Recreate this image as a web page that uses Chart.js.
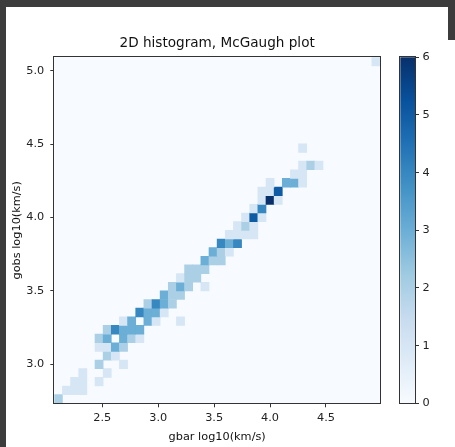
<!DOCTYPE html>
<html>
<head>
<meta charset="utf-8">
<script src="https://cdn.jsdelivr.net/npm/chart.js@4.4.1/dist/chart.umd.min.js"></script>
<style>
  html, body { margin:0; padding:0; width:455px; height:447px; overflow:hidden; background:#3c3c3c; }
  #paper { position:absolute; left:6px; top:7px; width:449px; height:440px; background:#ffffff; }
  #rstrip { position:absolute; left:448px; top:0; width:7px; height:40px; background:#3c3c3c; }
  #main { position:absolute; left:0; top:0; width:455px; height:447px; }
  #cbar { position:absolute; left:390px; top:0; width:65px; height:447px; }
</style>
</head>
<body>
<div id="paper"></div>
<div id="rstrip"></div>
<canvas id="main" width="455" height="447"></canvas>
<canvas id="cbar" width="65" height="447"></canvas>
<script>
// ---------------- data ----------------
const titleText = '2D histogram, McGaugh plot';
const xLabel = 'gbar log10(km/s)';
const yLabel = 'gobs log10(km/s)';

// histogram range (log10 km/s) and number of bins per axis
const gbarRange = [2.0707, 4.983];
const gobsRange = [2.7343, 5.0913];
const nBins = 40;

// non-empty bins: column (gbar bin index), row (gobs bin index), count
const binCol = [0, 1,2,3, 2,3,5, 3,6, 5,8, 6,7, 5,6,7,8, 5,6,8,9,10, 6,7,8,9,10, 8,9,11,12,15,
                10,11,12,13, 11,12,13,14, 13,14,15, 14,15,16,18, 15,16,17, 16,17,18, 18,19,20,
                19,20,21, 20,21,22, 21,22,23,24, 22,23,24, 23,24,25, 24,25, 25,26,27, 25,26,27,
                26,28,29,30, 29,30, 30,31,32, 30, 39];
const binRow = [0, 1,1,1, 2,2,2, 3,3, 4,4, 5,5, 6,6,6,6, 7,7,7,7,7, 8,8,8,8,8, 9,9,9,9,9,
                10,10,10,10, 11,11,11,11, 12,12,12, 13,13,13,13, 14,14,14, 15,15,15, 16,16,16,
                17,17,17, 18,18,18, 19,19,19,19, 20,20,20, 21,21,21, 22,22, 23,23,23, 24,24,24,
                25,25,25,25, 26,26, 27,27,27, 29, 39];
const counts = [2, 1,1,1, 1,1,1, 1,1, 2,1, 2,1, 1,1,3,2, 2,3,3,2,1, 2,4,3,3,3, 1,3,3,1,1,
                4,3,3,1, 2,4,3,2, 3,2,2, 2,3,2,1, 1,2,2, 2,2,2, 3,2,2,
                3,2,1, 4,3,4, 1,1,1,1, 1,2,1, 1,5,1, 1,4, 1,6,1, 1,1,5,
                1,3,3,1, 1,1, 1,2,1, 1, 1];

const xTicks = [2.5, 3.0, 3.5, 4.0, 4.5];
const yTicks = [3.0, 3.5, 4.0, 4.5, 5.0];
const cbarTicks = [0, 1, 2, 3, 4, 5, 6];
const countRange = [0, 6];

// ---------------- colour map (matplotlib "Blues") ----------------
const bluesStops = [
  [0.000, [247,251,255]], [0.125, [222,235,247]], [0.250, [198,219,239]],
  [0.375, [158,202,225]], [0.500, [107,174,214]], [0.625, [66,146,198]],
  [0.750, [33,113,181]],  [0.875, [8,81,156]],    [1.000, [8,48,107]]
];
function blues(t) {
  t = Math.max(0, Math.min(1, t));
  for (let i = 1; i < bluesStops.length; i++) {
    const [t1, c1] = bluesStops[i];
    const [t0, c0] = bluesStops[i - 1];
    if (t <= t1) {
      const f = (t - t0) / (t1 - t0);
      const c = c0.map((v, k) => Math.round(v + (c1[k] - v) * f));
      return `rgb(${c[0]},${c[1]},${c[2]})`;
    }
  }
  return 'rgb(8,48,107)';
}
const colorFor = v => blues((v - countRange[0]) / (countRange[1] - countRange[0]));

// ---------------- build cells ----------------
const dx = (gbarRange[1] - gbarRange[0]) / nBins;
const dy = (gobsRange[1] - gobsRange[0]) / nBins;
const cells = binCol.map((c, i) => ({
  x: gbarRange[0] + (c + 0.5) * dx,
  y: [gobsRange[0] + binRow[i] * dy, gobsRange[0] + (binRow[i] + 1) * dy],
  n: counts[i]
}));

Chart.defaults.font.family = "'DejaVu Sans', sans-serif";
Chart.defaults.color = '#222';

const TICK_FONT = { family: "'DejaVu Sans', sans-serif", size: 11.3 };
const AXIS_COLOR = '#333';

const areaPlugin = {
  id: 'areaPlugin',
  beforeDatasetsDraw(chart, args, opts) {
    const a = chart.chartArea, ctx = chart.ctx;
    if (opts.fill) {
      ctx.save();
      ctx.fillStyle = opts.fill;
      ctx.fillRect(a.left, a.top, a.right - a.left, a.bottom - a.top);
      ctx.restore();
    }
  },
  afterDatasetsDraw(chart, args, opts) {
    const a = chart.chartArea, ctx = chart.ctx;
    ctx.save();
    ctx.strokeStyle = opts.frame || AXIS_COLOR;
    ctx.lineWidth = 1;
    ctx.strokeRect(Math.round(a.left) - 0.5, Math.round(a.top) - 0.5,
                   Math.round(a.right - a.left) + 1, Math.round(a.bottom - a.top) + 1);
    ctx.restore();
  }
};

// ---------------- main heat map ----------------
new Chart(document.getElementById('main'), {
  type: 'bar',
  data: {
    datasets: [{
      data: cells,
      backgroundColor: ctx => colorFor(ctx.raw ? ctx.raw.n : 0),
      borderWidth: 0,
      barPercentage: 1,
      categoryPercentage: 1,
      grouped: false
    }]
  },
  plugins: [areaPlugin],
  options: {
    responsive: false,
    animation: false,
    events: [],
    layout: { padding: { left: 0, right: 75, top: 0, bottom: 0 } },
    plugins: {
      legend: { display: false },
      tooltip: { enabled: false },
      title: {
        display: true,
        fullSize: false,
        text: titleText,
        color: '#111',
        font: { family: "'DejaVu Sans', sans-serif", size: 13.6, weight: 'normal' },
        padding: { top: 35.6, bottom: 5.4 }
      },
      areaPlugin: { fill: colorFor(0), frame: AXIS_COLOR }
    },
    scales: {
      x: {
        type: 'linear',
        offset: false,
        min: gbarRange[0],
        max: gbarRange[1],
        afterBuildTicks: s => { s.ticks = xTicks.map(v => ({ value: v })); },
        afterFit: s => { s.height = 43.7; },
        ticks: { font: TICK_FONT, color: '#222', padding: 4.4, maxRotation: 0,
                 callback: v => Number(v).toFixed(1) },
        grid: { display: true, drawOnChartArea: false, drawTicks: true, tickLength: 4,
                color: AXIS_COLOR, offset: false },
        border: { display: false },
        title: { display: true, text: xLabel, color: '#111', font: TICK_FONT,
                 padding: { top: 0, bottom: 2.7 } }
      },
      y: {
        type: 'linear',
        min: gobsRange[0],
        max: gobsRange[1],
        afterBuildTicks: s => { s.ticks = yTicks.map(v => ({ value: v })); },
        afterFit: s => { s.width = 54.3; },
        ticks: { font: TICK_FONT, color: '#222', padding: 6,
                 callback: v => Number(v).toFixed(1) },
        grid: { display: true, drawOnChartArea: false, drawTicks: true, tickLength: 4,
                color: AXIS_COLOR },
        border: { display: false },
        title: { display: true, text: yLabel, color: '#111', font: TICK_FONT,
                 padding: { top: 10.7, bottom: 0 } }
      }
    }
  }
});

// ---------------- colour bar ----------------
new Chart(document.getElementById('cbar'), {
  type: 'bar',
  data: {
    labels: ['count'],
    datasets: [{
      data: [[countRange[0], countRange[1]]],
      backgroundColor: ctx => {
        const a = ctx.chart.chartArea;
        if (!a) return colorFor(3);
        const g = ctx.chart.ctx.createLinearGradient(0, a.bottom, 0, a.top);
        bluesStops.forEach(([t, c]) => g.addColorStop(t, `rgb(${c[0]},${c[1]},${c[2]})`));
        return g;
      },
      borderWidth: 0,
      barPercentage: 1,
      categoryPercentage: 1
    }]
  },
  plugins: [areaPlugin],
  options: {
    responsive: false,
    animation: false,
    events: [],
    layout: { padding: { left: 10.3, right: 0, top: 57.3, bottom: 43.7 } },
    plugins: {
      legend: { display: false },
      tooltip: { enabled: false },
      title: { display: false },
      areaPlugin: { fill: null, frame: AXIS_COLOR }
    },
    scales: {
      x: { display: false },
      y: {
        position: 'right',
        min: countRange[0],
        max: countRange[1],
        afterBuildTicks: s => { s.ticks = cbarTicks.map(v => ({ value: v })); },
        afterFit: s => { s.width = 40; },
        ticks: { font: TICK_FONT, color: '#222', padding: 3.5 },
        grid: { display: true, drawOnChartArea: false, drawTicks: true, tickLength: 4,
                color: AXIS_COLOR },
        border: { display: false }
      }
    }
  }
});
</script>
</body>
</html>
